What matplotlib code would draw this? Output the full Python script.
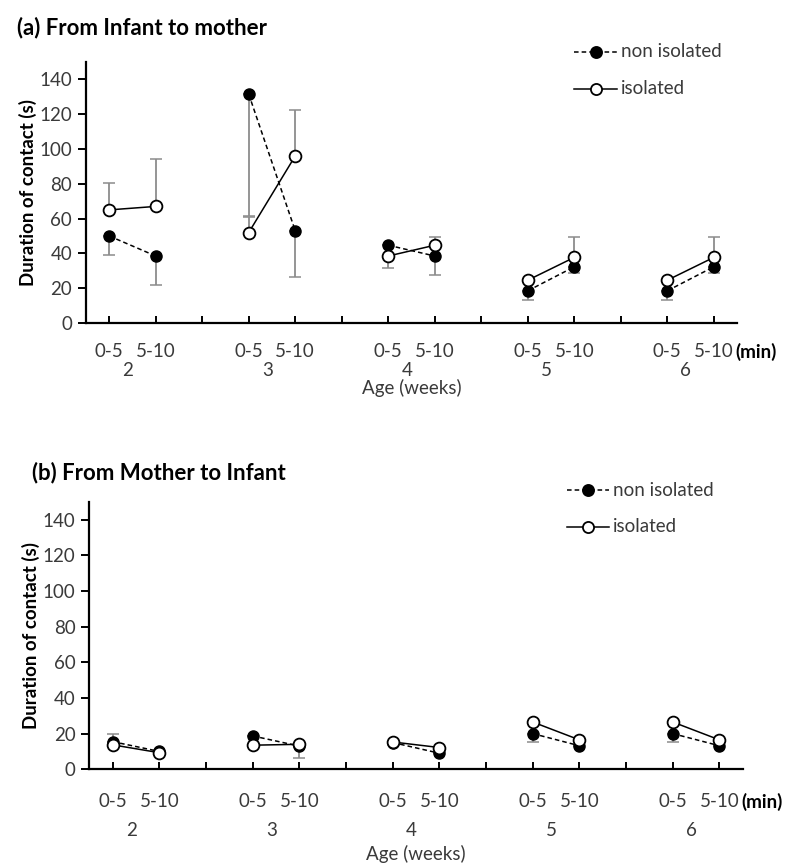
import numpy as np
import matplotlib
matplotlib.use("Agg")
import matplotlib.pyplot as plt
import matplotlib.transforms as mtransforms

plt.rcParams['font.family'] = ['Lato', 'DejaVu Sans']

# -------------------------------
# Data
# -------------------------------
weeks = ['2', '3', '4', '5', '6']
periods = ['0-5', '5-10']

# (a) From Infant to mother
a_non = [50, 38.5, 131.5, 53, 44.7, 38.5, 18.5, 32.3, 18.5, 32.3]
a_non_err = [11, 16.5, 70, 26.5, 0, 11, 5, 3.5, 5, 3.5]
a_iso = [65, 67, 52, 96, 38.5, 44.7, 24.6, 37.7, 24.6, 37.7]
a_iso_err = [15.5, 27, 9, 26.5, 0, 5, 0, 12, 0, 12]
a_iso_err_low = [0, 0, 0, 0, 7, 0, 0, 0, 0, 0]

# (b) From Mother to Infant
b_non = [15.5, 10, 18.7, 13, 15, 9, 20, 13.2, 20, 13.2]
b_non_err = [0, 0, 0, 6.5, 0, 0, 4.5, 0, 4.5, 0]
b_non_err_up = [4, 0, 0, 0, 0, 0, 0, 0, 0, 0]
b_iso = [13.7, 9.3, 13.5, 14, 15.3, 12.2, 26.5, 16.5, 26.5, 16.5]

# -------------------------------
# Helper
# -------------------------------
xpos = np.array([w * 3 + p + 1 for w in range(len(weeks)) for p in range(len(periods))])
err_col = '#8c8c8c'
txt_col = '#3a3a3a'
FS = 13.5


def draw_panel(ax, non, non_lo, non_hi, iso, iso_lo, iso_hi, title, title_xy,
               leg, rows):
    non = np.array(non)
    iso = np.array(iso)
    # error bars (one sided)
    ax.errorbar(xpos, non, yerr=[non_lo, non_hi], fmt='none', ecolor=err_col,
                elinewidth=1.3, capsize=4, capthick=1.1, zorder=2)
    ax.errorbar(xpos, iso, yerr=[iso_lo, iso_hi], fmt='none', ecolor=err_col,
                elinewidth=1.3, capsize=4, capthick=1.1, zorder=2)
    for w in range(len(weeks)):
        idx = [2 * w, 2 * w + 1]
        ax.plot(xpos[idx], non[idx], ls=(0, (3, 2)), color='black', lw=1.1,
                marker='o', ms=8, mfc='black', mec='black', zorder=3)
        ax.plot(xpos[idx], iso[idx], ls='-', color='black', lw=1.1,
                marker='o', ms=8.5, mfc='white', mec='black', mew=1.3, zorder=4)

    ax.set_xlim(0.5, 14.5)
    ax.set_ylim(0, 150)
    ax.set_yticks(np.arange(0, 141, 20))
    ax.set_xticks(np.arange(1, 15))
    ax.set_xticklabels([])
    ax.tick_params(axis='x', direction='in', length=5, width=1.4, color='black')
    ax.tick_params(axis='y', direction='out', length=6, width=1.4, color='black',
                   labelsize=FS, labelcolor=txt_col, pad=4)
    for s in ['top', 'right']:
        ax.spines[s].set_visible(False)
    for s in ['left', 'bottom']:
        ax.spines[s].set_linewidth(1.6)
    ax.set_ylabel('Duration of contact (s)', fontsize=13.5, fontweight='bold', labelpad=2)

    trans = mtransforms.blended_transform_factory(ax.transData, ax.transAxes)
    for i, x in enumerate(xpos):
        ax.text(x, rows[0], periods[i % 2], transform=trans, ha='center', va='center',
                fontsize=FS, color=txt_col)
    for w in range(len(weeks)):
        ax.text(xpos[2 * w:2 * w + 2].mean() - 0.1, rows[1], weeks[w], transform=trans,
                ha='center', va='center', fontsize=FS, color=txt_col)
    ax.text(14.47, rows[0], '(min)', transform=trans, ha='left', va='center',
            fontsize=FS, fontweight='bold', color='black')
    ax.text(0.5, rows[2], 'Age (weeks)', transform=ax.transAxes, ha='center',
            va='center', fontsize=FS, color=txt_col)

    # legend drawn by hand like the original
    fig = ax.figure
    for k, (lab, ls, fc) in enumerate([('non isolated', (0, (3, 2)), 'black'),
                                       ('isolated', '-', 'white')]):
        yy = leg[k]
        fig.add_artist(plt.Line2D([leg[2], leg[3]], [yy, yy], transform=fig.transFigure,
                                  ls=ls, color='black', lw=1.1))
        fig.add_artist(plt.Line2D([(leg[2] + leg[3]) / 2], [yy], transform=fig.transFigure,
                                  marker='o', ms=8, mfc=fc, mec='black', mew=1.3, ls='none'))
        fig.text(leg[3] + 0.005, yy, lab, ha='left', va='center', fontsize=FS,
                 color=txt_col)

    fig.text(title_xy[0], title_xy[1], title, fontsize=16, fontweight='bold',
             ha='left', va='center')


fig = plt.figure(figsize=(7.86, 8.63), dpi=100)
ax1 = fig.add_axes([0.1094, 0.6257, 0.9377 - 0.1094, 0.9282 - 0.6257])
ax2 = fig.add_axes([0.1136, 0.1086, 0.9449 - 0.1136, 0.4187 - 0.1086])

draw_panel(ax1, a_non, a_non_err, [0] * 10, a_iso, a_iso_err_low, a_iso_err,
           '(a) From Infant to mother', (17 / 786, 1 - 28 / 863),
           [1 - 51.7 / 863, 1 - 89 / 863, 574 / 786, 617 / 786],
           (-0.11, -0.18, -0.25))
draw_panel(ax2, b_non, b_non_err, b_non_err_up, b_iso, [0] * 10, [0] * 10,
           '(b) From Mother to Infant', (32 / 786, 1 - 473 / 863),
           [1 - 490 / 863, 1 - 527 / 863, 567 / 786, 609 / 786],
           (-0.121, -0.227, -0.318))

fig.savefig('out.png', dpi=100)
